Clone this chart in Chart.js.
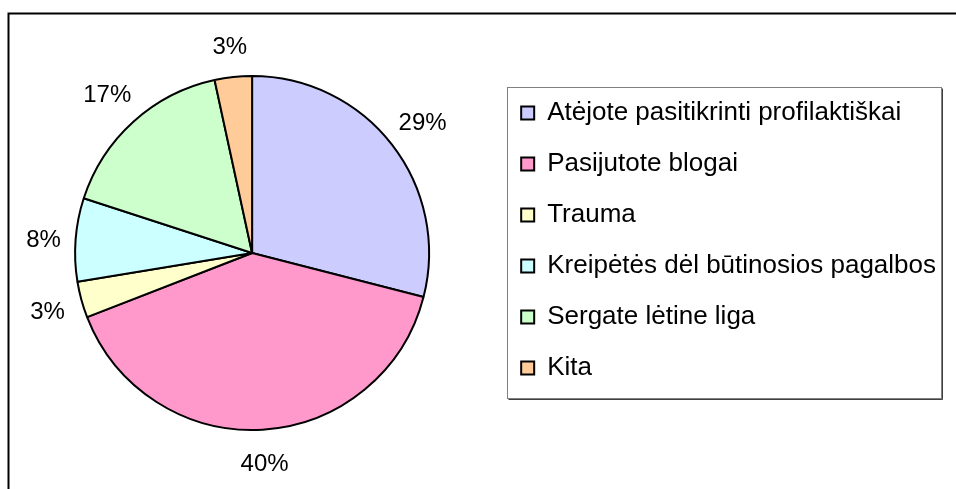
<!DOCTYPE html>
<html>
<head>
<meta charset="utf-8">
<script src="https://cdn.jsdelivr.net/npm/chart.js@4/dist/chart.umd.min.js"></script>
<style>
  html, body { margin: 0; padding: 0; background: #fff; }
  #wrap { width: 956px; height: 489px; position: relative; }
</style>
</head>
<body>
<div id="wrap"><canvas id="c" width="956" height="489"></canvas></div>
<script>
const categories = [
  "Atėjote pasitikrinti profilaktiškai",
  "Pasijutote blogai",
  "Trauma",
  "Kreipėtės dėl būtinosios pagalbos",
  "Sergate lėtine liga",
  "Kita"
];
const values = [29.0, 40.1, 3.3, 7.6, 16.6, 3.4];
const colors = ["#CCCCFF", "#FF99CC", "#FFFFCC", "#CCFFFF", "#CCFFCC", "#FFCC99"];

const FONT = "'Liberation Sans', Arial, Helvetica, sans-serif";

const framePlugin = {
  id: 'frame',
  beforeDraw(chart) {
    const ctx = chart.ctx;
    ctx.save();
    ctx.fillStyle = '#fff';
    ctx.fillRect(0, 0, chart.width, chart.height);
    ctx.strokeStyle = '#000';
    ctx.lineWidth = 2;
    ctx.beginPath();
    ctx.moveTo(chart.width, 13.5);
    ctx.lineTo(8.5, 13.5);
    ctx.lineTo(8.5, chart.height);
    ctx.stroke();
    ctx.restore();
  }
};

const legendBoxPlugin = {
  id: 'legendBox',
  afterDraw(chart) {
    const lg = chart.legend;
    if (!lg || !lg.legendHitBoxes || !lg.legendHitBoxes.length) return;
    const hb = lg.legendHitBoxes;
    const first = hb[0], last = hb[hb.length - 1];
    const x0 = Math.round(first.left - 14) + 0.5;
    const y0 = Math.round(first.top - 13) + 0.5;
    const x1 = Math.round(lg.right - 5) + 0.5;
    const y1 = Math.round(last.top + last.height + 17) + 0.5;
    const ctx = chart.ctx;
    ctx.save();
    ctx.lineWidth = 1;
    ctx.strokeStyle = '#808080';
    ctx.strokeRect(x0, y0, x1 - x0, y1 - y0);
    ctx.strokeStyle = '#404040';
    ctx.beginPath();
    ctx.moveTo(x0 + 1, y1 + 1);
    ctx.lineTo(x1 + 1, y1 + 1);
    ctx.lineTo(x1 + 1, y0 + 1);
    ctx.stroke();
    ctx.restore();
  }
};

const labelPlugin = {
  id: 'pctLabels',
  afterDatasetsDraw(chart) {
    const meta = chart.getDatasetMeta(0);
    const data = chart.data.datasets[0].data;
    const total = data.reduce((a, b) => a + b, 0);
    const ctx = chart.ctx;
    ctx.save();
    ctx.font = "24px " + FONT;
    ctx.fillStyle = '#000';
    ctx.textAlign = 'center';
    ctx.textBaseline = 'middle';
    meta.data.forEach((arc, i) => {
      const p = arc.getProps(['x', 'y', 'startAngle', 'endAngle', 'outerRadius'], true);
      const mid = (p.startAngle + p.endAngle) / 2;
      const off = 31 + 8 * Math.abs(Math.sin(2 * mid));
      const r = p.outerRadius + off;
      const x = p.x + Math.cos(mid) * r;
      const y = p.y + Math.sin(mid) * r + 3;
      ctx.fillText(Math.round(data[i] / total * 100) + '%', x, y);
    });
    ctx.restore();
  }
};

new Chart(document.getElementById('c'), {
  type: 'pie',
  data: {
    labels: categories,
    datasets: [{
      data: values,
      backgroundColor: colors,
      borderColor: '#000',
      borderWidth: 2,
      radius: 177
    }]
  },
  options: {
    responsive: false,
    animation: false,
    layout: { padding: { left: 8, right: 10, top: 75, bottom: 58 } },
    plugins: {
      tooltip: { enabled: false },
      legend: {
        position: 'right',
        align: 'start',
        labels: {
          font: { family: FONT, size: 26 },
          color: '#000',
          boxWidth: 13,
          boxHeight: 13,
          padding: 25
        }
      }
    }
  },
  plugins: [framePlugin, labelPlugin, legendBoxPlugin]
});
</script>
</body>
</html>
